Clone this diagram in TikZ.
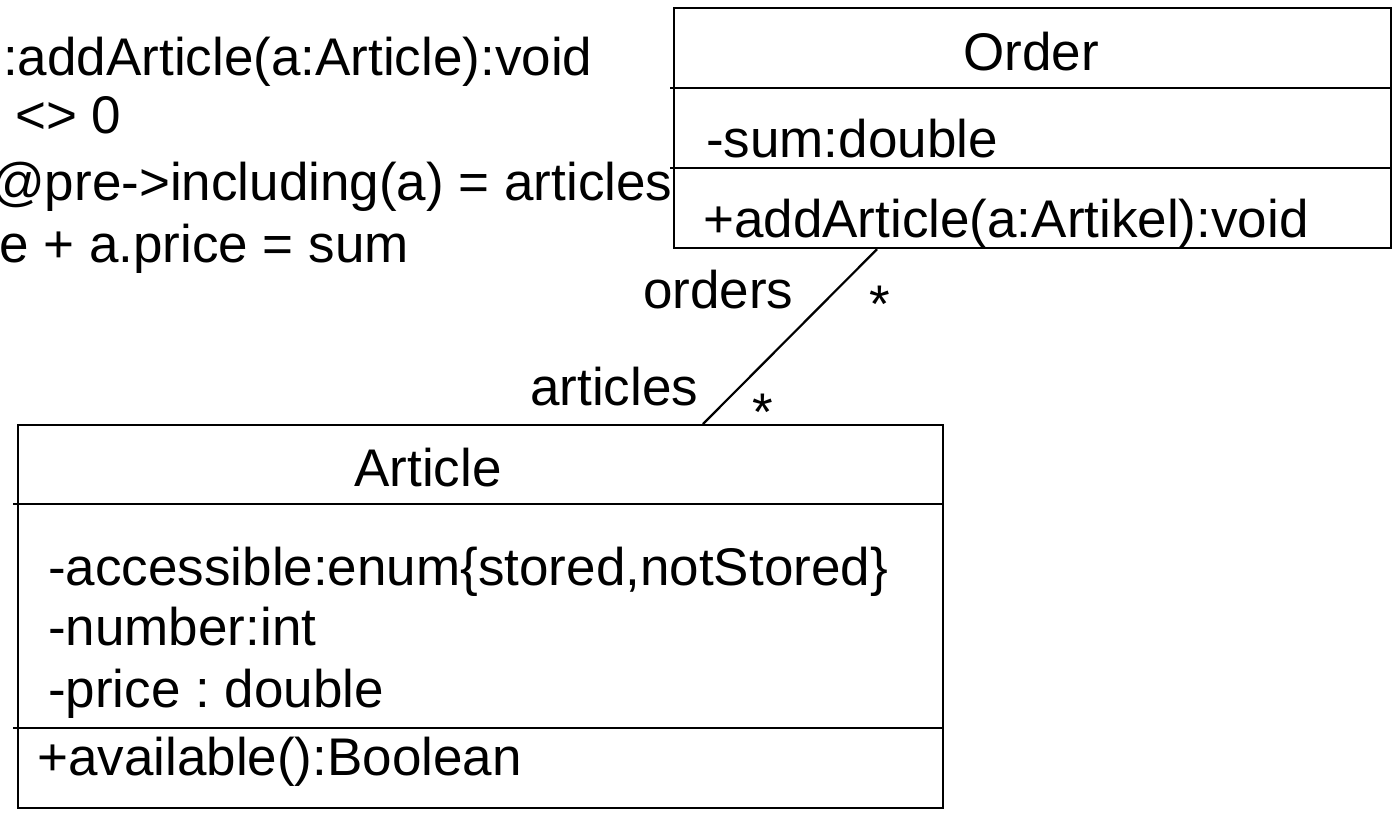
\documentclass[tikz,border=0pt]{standalone}
\usepackage{fontspec}
\setmainfont{Liberation Sans}
\frenchspacing
\begin{document}
\begin{tikzpicture}[x=1pt,y=-1pt,
  umlline/.style={line width=2.2pt, black},
  classbox/.style={draw, umlline, rectangle, inner sep=0pt, anchor=north west},
  txt/.style={inner sep=0pt, anchor=base west, font=\fontsize{53}{64}\selectfont},
  ctxt/.style={inner sep=0pt, anchor=base, font=\fontsize{53}{64}\selectfont}]
\useasboundingbox (0,0) rectangle (1394,815);

% OCL constraint text (partly outside the page on the left)
\node[txt] (c1) at (3,75)   {:addArticle(a:Article):void};
\node[txt] (c2) at (15,133) {<> 0};
\node[txt] (c3) at (-9,200) {@pre->including(a) = articles};
\node[txt] (c4) at (-1,262) {e + a.price = sum};

% class Order
\node[classbox, minimum width=717pt, minimum height=240pt] (order) at (673,7) {};
\draw[umlline] ([xshift=-3pt,yshift=-81pt]order.north west) -- ([yshift=-81pt]order.north east);
\draw[umlline] ([xshift=-3pt,yshift=-161pt]order.north west) -- ([yshift=-161pt]order.north east);
\node[ctxt] (ordername) at (1031,70) {Order};
\node[txt] (ordersum) at (706,157) {-sum:double};
\node[txt] (orderop) at (703,237) {+addArticle(a:Artikel):void};

% class Article
\node[classbox, minimum width=925pt, minimum height=383pt] (article) at (17,424) {};
\draw[umlline] ([xshift=-4pt,yshift=-80pt]article.north west) -- ([yshift=-80pt]article.north east);
\draw[umlline] ([xshift=-4pt,yshift=-304pt]article.north west) -- ([yshift=-304pt]article.north east);
\node[ctxt] (articlename) at (428,486) {Article};
\node[txt] (attr1) at (48,585) {-accessible:enum\{stored,notStored\}};
\node[txt] (attr2) at (48,645) {-number:int};
\node[txt] (attr3) at (48,707) {-price : double};
\node[txt] (op1) at (37,775) {+available():Boolean};

% association
\draw[umlline] ([xshift=204pt]order.south west) -- ([xshift=686pt]article.north west);
\node[txt] (rolea) at (643,308) {orders};
\node[ctxt] (multa) at (880,322) {*};
\node[txt] (roleb) at (530,405) {articles};
\node[ctxt] (multb) at (763,430) {*};
\end{tikzpicture}
\end{document}
